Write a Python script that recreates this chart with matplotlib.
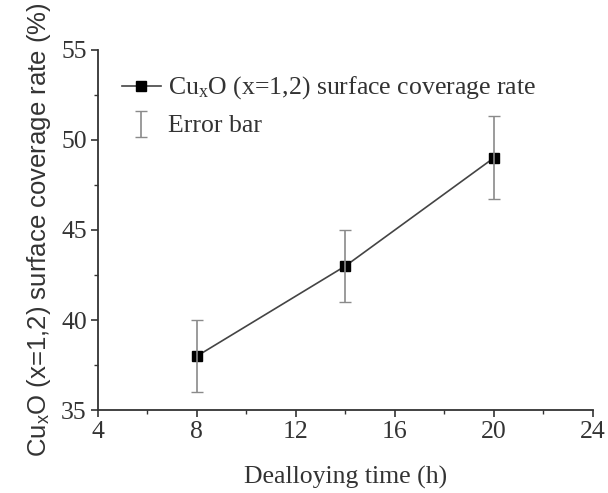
import numpy as np
import matplotlib
matplotlib.use("Agg")
import matplotlib.pyplot as plt

time_h = [8, 14, 20]
coverage = [38, 43, 49]
err = [2.0, 2.0, 2.3]

x_ticks = [4, 8, 12, 16, 20, 24]
y_ticks = [35, 40, 45, 50, 55]

plt.rcParams['font.family'] = ['Liberation Serif', 'DejaVu Serif']
plt.rcParams['mathtext.fontset'] = 'custom'
plt.rcParams['mathtext.rm'] = 'Liberation Serif'
plt.rcParams['mathtext.it'] = 'Liberation Serif'

fig = plt.figure(figsize=(6.08, 4.93), dpi=100)
ax = fig.add_axes([0.161, 0.168, 0.814, 0.731])

ax.plot(time_h, coverage, color='#444444', lw=1.2, marker='s', ms=7.5,
        mfc='black', mec='black', label=r'Cu$_\mathregular{x}$O (x=1,2) surface coverage rate')
ax.errorbar(time_h, coverage, yerr=err, fmt='none', ecolor='#8a8a8a',
            elinewidth=1.2, capsize=4, capthick=1.0, label='Error bar')

ax.set_xlim(4, 24)
ax.set_ylim(35, 55)
ax.set_xticks(x_ticks)
ax.set_yticks(y_ticks)
ax.set_xticks(np.arange(6, 24, 4), minor=True)
ax.set_yticks(np.arange(37.5, 55, 5), minor=True)
ax.tick_params(which='major', direction='out', length=5, width=1.2, labelsize=18.5,
               colors='#333333', pad=3)
ax.tick_params(which='minor', direction='out', length=3, width=1.0, colors='#333333')

for s in ['top', 'right']:
    ax.spines[s].set_visible(False)
for s in ['left', 'bottom']:
    ax.spines[s].set_linewidth(1.3)
    ax.spines[s].set_color('#333333')

ax.set_xlabel('Dealloying time (h)', fontsize=18.5, color='#333333', labelpad=16)
ax.set_ylabel(r'Cu$_\mathregular{x}$O (x=1,2) surface coverage rate (%)', fontsize=18.5,
              family=['Liberation Sans', 'DejaVu Sans'], color='#333333', labelpad=6)

leg = ax.legend(loc='upper left', frameon=False, fontsize=18.5, handlelength=1.5,
                handleheight=0.5, handletextpad=0.3, labelspacing=0.55, borderaxespad=0.0,
                bbox_to_anchor=(0.028, 0.96))
for t in leg.get_texts():
    t.set_color('#333333')

fig.savefig('out.png', dpi=100)
